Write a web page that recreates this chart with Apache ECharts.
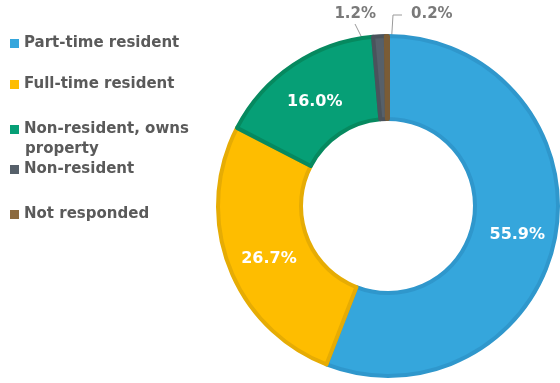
<!DOCTYPE html>
<html><head><meta charset="utf-8">
<script src="https://cdn.jsdelivr.net/npm/echarts@6/dist/echarts.min.js"></script>
<style>html,body{margin:0;padding:0;background:#fff}#c{width:560px;height:383px}</style>
</head><body><div id="c"></div>
<script>
const categories = ['Part-time resident','Full-time resident','Non-resident, owns property','Non-resident','Not responded'];
const values = [55.9, 26.7, 16.0, 1.2, 0.2];
const colors = ['#35A6DC','#FEBD00','#069F76','#56606A','#8C6A3F'];
const borders = ['#2F97CC','#E6AC04','#06895F','#4A535C','#7A5C36'];
const legendTops = [31, 72, 117, 157, 202];
const legendLabels = ['Part-time resident','Full-time resident','Non-resident, owns','Non-resident','Not responded'];

const chart = echarts.init(document.getElementById('c'), null, {renderer:'canvas'});
const font = '"DejaVu Sans", sans-serif';
const legends = categories.map((c,i)=>({
  data:[c], left: 5, top: legendTops[i], orient:'vertical',
  icon:'rect', itemWidth:9, itemHeight:9, itemGap:0,
  itemStyle:{borderWidth:0},
  formatter: ()=>legendLabels[i],
  textStyle:{fontFamily:font, fontSize:15, fontWeight:'bold', color:'#5a5a5a', padding:[0,0,0,0]},
  selectedMode:false
}));
chart.setOption({
  animation:false,
  color: colors,
  legend: legends,
  graphic:[{type:'text', left: 25, top: 142, style:{text:'property', font:'bold 15px "DejaVu Sans", sans-serif', fill:'#5a5a5a'}}],
  series:[{
    type:'pie', center:[388,206], radius:[87,170], startAngle:90, clockwise:true,
    avoidLabelOverlap:false,
    data: categories.map((c,i)=>({
      name:c, value:values[i],
      itemStyle:{color:colors[i], borderColor:borders[i], borderWidth:4},
      label: i<3 ? {position:'inside', color:'#fff', fontSize:16, fontWeight:'bold', fontFamily:font}
                 : {position:'outside', color:'#7a7a7a', fontSize:15, fontWeight:'bold', fontFamily:font},
      labelLine: i<3 ? {show:false} : {show:true, lineStyle:{color:'#9a9a9a', width:1}}
    })),
    label:{formatter: p=>p.value.toFixed(1)+'%'},
    labelLayout: function(p){
      if (p.dataIndex===3) return {x:376, y:14, align:'right', verticalAlign:'middle',
        labelLinePoints:[[383,80],[369,52],[355,24]]};
      if (p.dataIndex===4) return {x:411, y:14, align:'left', verticalAlign:'middle',
        labelLinePoints:[[389,80],[393,15],[402,15]]};
      if (p.dataIndex===1) return {dx:4, dy:6};
      return {dy:5};
    }
  }]
});
</script></body></html>
